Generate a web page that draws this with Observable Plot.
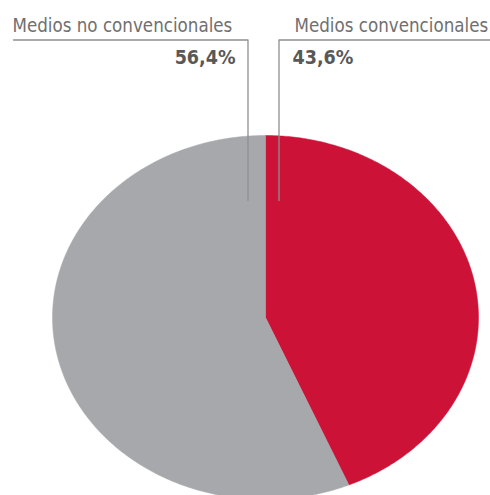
<!DOCTYPE html>
<html>
<head>
<meta charset="utf-8">
<script src="https://cdn.jsdelivr.net/npm/d3@7"></script>
<script src="https://cdn.jsdelivr.net/npm/@observablehq/plot@0.6"></script>
<style>
  html, body { margin: 0; padding: 0; background: #fff; }
  #chart svg { display: block; }
</style>
</head>
<body>
<div id="chart"></div>
<script>
// Data
const categories = ["Medios convencionales", "Medios no convencionales"];
const values = [43.6, 56.4];
const valueLabels = ["43,6%", "56,4%"];
const colors = ["#cc1237", "#a6a8ab"];

const W = 490, H = 495;
const xRange = [52, 478];
const yRange = [499, 135];

// pie geometry from data
const pie = d3.pie().sort(null).value(d => d.value)(categories.map((name, i) => ({name, value: values[i]})));
const pts = [];
for (const s of pie) {
  const name = s.data.name;
  pts.push({name, x: 0, y: 0});
  const n = Math.max(2, Math.ceil((s.endAngle - s.startAngle) / 0.01));
  for (let k = 0; k <= n; k++) {
    const a = s.startAngle + (s.endAngle - s.startAngle) * k / n;
    pts.push({name, x: Math.sin(a), y: Math.cos(a)});
  }
  pts.push({name, x: 0, y: 0});
}

// pixel -> data helpers for annotation placement
const px = p => -1 + 2 * (p - xRange[0]) / (xRange[1] - xRange[0]);
const py = p => -1 + 2 * (yRange[0] - p) / (yRange[0] - yRange[1]);

const leaders = [
  {name: categories[1], pts: [[13, 39.5], [247.5, 39.5], [247.5, 200]]},
  {name: categories[0], pts: [[278.5, 200], [278.5, 39.5], [490, 39.5]]}
];
const leaderPts = leaders.flatMap(l => l.pts.map(([a, b]) => ({name: l.name, x: px(a), y: py(b)})));

const font = "'DejaVu Sans Condensed', 'DejaVu Sans', sans-serif";

const chart = Plot.plot({
  width: W,
  height: H,
  margin: 0,
  x: {domain: [-1, 1], range: xRange, axis: null},
  y: {domain: [-1, 1], range: yRange, axis: null},
  color: {domain: categories, range: colors},
  style: {fontFamily: font, background: "#fff"},
  marks: [
    Plot.line(pts, {x: "x", y: "y", z: "name", fill: "name", stroke: "name", strokeWidth: 0.5, curve: "linear"}),
    Plot.line(leaderPts, {x: "x", y: "y", z: "name", stroke: "#8f8f8f", strokeWidth: 1.3}),
    Plot.text([categories[1]], {x: px(12), y: py(31), text: d => d, textAnchor: "start", lineAnchor: "bottom", fontSize: 18.6, fill: "#707070", fontFamily: font}),
    Plot.text([categories[0]], {x: px(294), y: py(31), text: d => d, textAnchor: "start", lineAnchor: "bottom", fontSize: 18.6, fill: "#707070", fontFamily: font}),
    Plot.text([valueLabels[1]], {x: px(235), y: py(63), text: d => d, textAnchor: "end", lineAnchor: "bottom", fontSize: 19.5, fontWeight: "bold", fill: "#585858", fontFamily: font}),
    Plot.text([valueLabels[0]], {x: px(292), y: py(63), text: d => d, textAnchor: "start", lineAnchor: "bottom", fontSize: 19.5, fontWeight: "bold", fill: "#585858", fontFamily: font})
  ]
});
document.getElementById("chart").appendChild(chart);
</script>
</body>
</html>
